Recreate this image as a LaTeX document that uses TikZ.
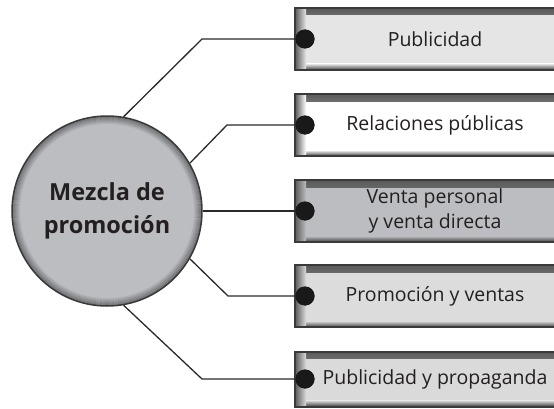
\documentclass[tikz,border=0pt]{standalone}
\usepackage{fontspec}
\setmainfont{Open Sans}
\usetikzlibrary{calc}
\definecolor{txt}{HTML}{231F20}
\definecolor{edge}{HTML}{3A3A3A}
\definecolor{bevel}{HTML}{5A5A5A}
\definecolor{fillA}{HTML}{E5E5E6}
\definecolor{fillB}{HTML}{FFFFFF}
\definecolor{fillC}{HTML}{BCBDC0}
\definecolor{fillD}{HTML}{DCDCDD}
\definecolor{fillE}{HTML}{DADADB}
\definecolor{circ}{HTML}{BCBDC1}
\definecolor{wire}{HTML}{2A2A2A}
\begin{document}
\begin{tikzpicture}[x=1pt,y=1pt,
  box/.style={rectangle, minimum width=280pt, minimum height=62pt, inner sep=0pt,
    fill=#1, draw=edge, line width=2pt, align=center, text=txt,
    font=\fontsize{19.5}{24.5}\selectfont,
    path picture={
      \shade[top color=bevel, bottom color=#1] ($(path picture bounding box.north west)$) rectangle ($(path picture bounding box.north east)+(0,-7)$);
      \shade[bottom color=black!75, top color=#1] ($(path picture bounding box.south west)$) rectangle ($(path picture bounding box.south east)+(0,6)$);
      \shade[left color=bevel, right color=#1] ($(path picture bounding box.north west)$) rectangle ($(path picture bounding box.south west)+(11,0)$);
    }},
  dot/.style={circle, fill=black!90, minimum size=19pt, inner sep=0pt},
  wirestyle/.style={draw=wire, line width=1.3pt},
  hub/.style={circle, minimum size=190pt, inner sep=0pt, fill=circ, draw=edge, line width=1.5pt,
    text=txt, align=center, font=\fontsize{23.5}{33}\selectfont\bfseries,
    path picture={
      \foreach \i in {1,...,8}{
        \draw[line width=1.1pt, black, opacity={0.4*(1-\i/9)}] (path picture bounding box.center) circle ({95.5-\i});
      }
    }}
]
\useasboundingbox (0,0) rectangle (554,408);
\clip (0,0) rectangle (554,408);

\node[box=fillA] (b1) at (435,369) {Publicidad};
\node[box=fillB] (b2) at (435,283) {Relaciones públicas};
\node[box=fillC] (b3) at (435,197) {Venta personal\\y venta directa};
\node[box=fillD] (b4) at (435,112) {Promoción y ventas};
\node[box=fillE, minimum height=55pt] (b5) at (435,29) {Publicidad y propaganda};

\node[hub] (c) at (107,197) {Mezcla de\\promoción};

\coordinate (e1) at (202,369);
\coordinate (e2) at (227,283);
\coordinate (e4) at (228,112);
\coordinate (e5) at (202,29);

\node[dot] (d1) at (305,369) {};
\node[dot] (d2) at (305,283) {};
\node[dot] (d3) at (305,197) {};
\node[dot] (d4) at (305,112) {};
\node[dot] (d5) at (305,29) {};

\draw[wirestyle] (c.80.5) -- (e1) -- (d1.center);
\draw[wirestyle] (c.30.5) -- (e2) -- (d2.center);
\draw[wirestyle] (c.0) -- (d3.center);
\draw[wirestyle] (c.-30.5) -- (e4) -- (d4.center);
\draw[wirestyle] (c.-80) -- (e5) -- (d5.center);

\foreach \d in {d1,d2,d3,d4,d5}{\fill[black!90] (\d) circle (9.5);}
\end{tikzpicture}
\end{document}
